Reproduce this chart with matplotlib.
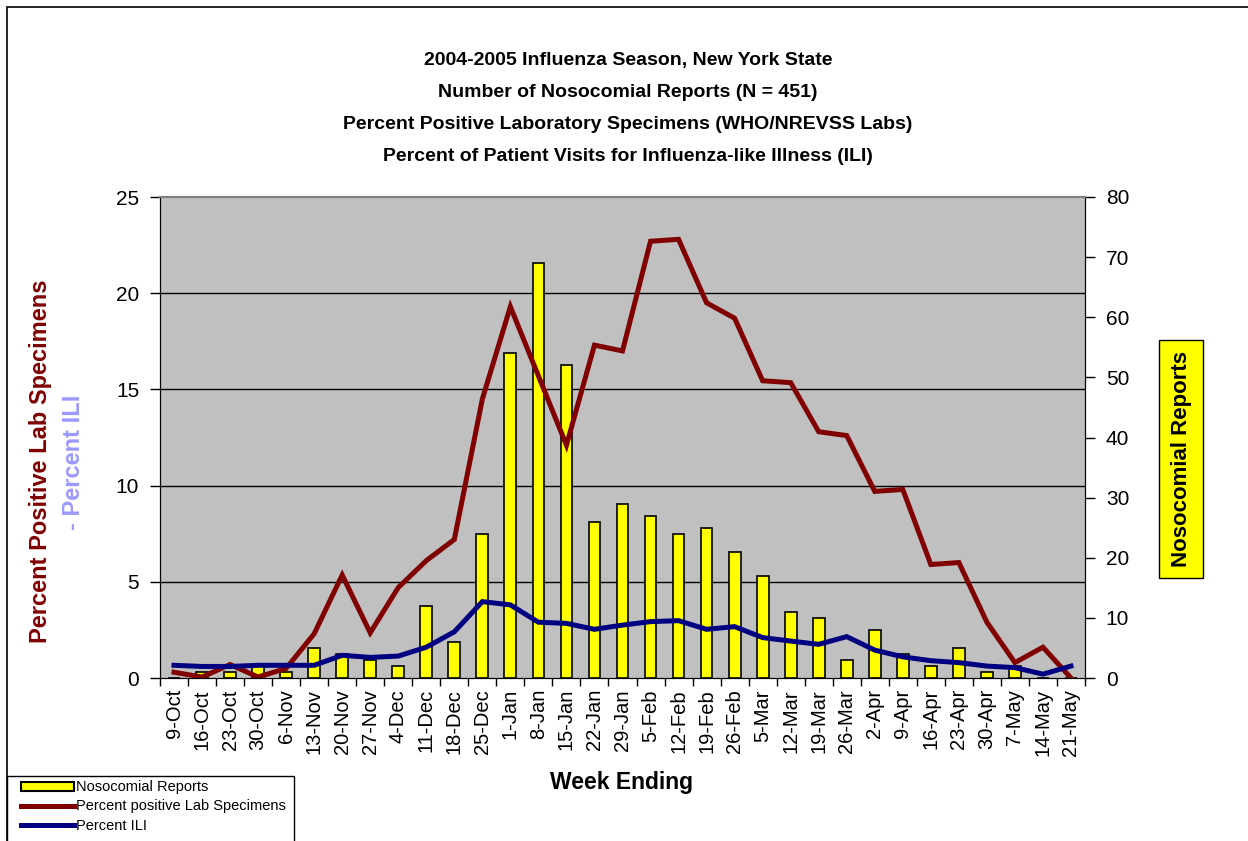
import matplotlib.pyplot as plt
from matplotlib.patches import Rectangle
from matplotlib.lines import Line2D

plt.rcParams['font.family'] = ['Liberation Sans', 'DejaVu Sans']

# --- Data ---
weeks = ['9-Oct', '16-Oct', '23-Oct', '30-Oct', '6-Nov', '13-Nov', '20-Nov', '27-Nov',
         '4-Dec', '11-Dec', '18-Dec', '25-Dec', '1-Jan', '8-Jan', '15-Jan', '22-Jan',
         '29-Jan', '5-Feb', '12-Feb', '19-Feb', '26-Feb', '5-Mar', '12-Mar', '19-Mar',
         '26-Mar', '2-Apr', '9-Apr', '16-Apr', '23-Apr', '30-Apr', '7-May', '14-May', '21-May']
nosocomial = [0, 1, 1, 2, 1, 5, 4, 3, 2, 12, 6, 24, 54, 69, 52, 26,
              29, 27, 24, 25, 21, 17, 11, 10, 3, 8, 4, 2, 5, 1, 2, 0, 0]
pct_positive = [0.3, 0.05, 0.7, 0.05, 0.5, 2.3, 5.35, 2.35, 4.7, 6.1, 7.2, 14.5, 19.3, 15.7,
                12.1, 17.3, 17.0, 22.7, 22.8, 19.5, 18.7, 15.45, 15.35, 12.8, 12.6, 9.7, 9.8,
                5.9, 6.0, 2.9, 0.8, 1.6, 0.0]
pct_ili = [0.66, 0.6, 0.6, 0.66, 0.66, 0.66, 1.18, 1.07, 1.14, 1.6, 2.4, 3.97, 3.8, 2.9,
           2.84, 2.53, 2.75, 2.93, 2.98, 2.53, 2.67, 2.1, 1.92, 1.75, 2.15, 1.45, 1.1,
           0.9, 0.8, 0.62, 0.54, 0.2, 0.62]
left_ticks = [0, 5, 10, 15, 20, 25]
right_ticks = [0, 10, 20, 30, 40, 50, 60, 70, 80]

RED = '#800000'
NAVY = '#000080'
W, H = 1248, 841

fig = plt.figure(figsize=(W / 100, H / 100), dpi=100)
fig.patches.append(Rectangle((7 / W, -0.1), 1.2, 1.1 - 7 / H, transform=fig.transFigure,
                             fill=False, edgecolor='black', lw=1.2))

ax = fig.add_axes([160 / W, 1 - 678 / H, (1085 - 160) / W, (678 - 197) / H])
ax.set_facecolor('#C0C0C0')
ax2 = ax.twinx()

x = list(range(len(weeks)))

# --- Bars (right scale) ---
ax.bar(x, nosocomial, width=0.42, color='#FFFF00', edgecolor='black', linewidth=1.2, zorder=3)
ax.set_ylim(0, 80)
ax.set_yticks(right_ticks)
ax.yaxis.tick_right()
ax.tick_params(axis='y', direction='out', length=7, width=1, pad=8, labelsize=15)

# gridlines from the left scale, behind bars
for g in left_ticks[1:-1]:
    ax.plot([0, 1], [g, g], color='black', lw=1, transform=ax2.get_yaxis_transform(), zorder=1)

# --- Lines (left scale) ---
ax2.plot(x, pct_positive, color=RED, lw=3.6, solid_joinstyle='miter', zorder=4)
ax2.plot(x, pct_ili, color=NAVY, lw=3.6, solid_joinstyle='miter', zorder=5)
ax2.set_ylim(0, 25)
ax2.set_yticks(left_ticks)
ax2.yaxis.tick_left()
ax2.tick_params(axis='y', direction='out', length=7, width=1, pad=8, labelsize=15)

# --- X axis ---
ax.set_xlim(-0.5, len(weeks) - 0.5)
ax.set_xticks(x)
ax.set_xticklabels(weeks, rotation=90, fontsize=14.5)
ax.set_xticks([i - 0.5 for i in range(len(weeks) + 1)], minor=True)
ax.tick_params(axis='x', which='major', length=0, pad=8)
ax.tick_params(axis='x', which='minor', direction='out', length=6, width=1)

for a in (ax, ax2):
    for side in ('left', 'right', 'bottom'):
        a.spines[side].set_color('black')
    a.spines['top'].set_color('#808080')
    a.spines['top'].set_linewidth(1.5)

# --- Text ---
title = ['2004-2005 Influenza Season, New York State',
         'Number of Nosocomial Reports (N = 451)',
         'Percent Positive Laboratory Specimens (WHO/NREVSS Labs)',
         'Percent of Patient Visits for Influenza-like Illness (ILI)']
for i, line in enumerate(title):
    fig.text(628 / W, 1 - (60 + 32.3 * i) / H, line, ha='center', va='center',
             fontsize=14, fontweight='bold')

fig.text(41 / W, 1 - 643 / H, 'Percent Positive Lab Specimens', rotation=90,
         ha='center', va='bottom', fontsize=17, fontweight='bold', color=RED)
fig.text(74 / W, 1 - 462 / H, '- Percent ILI', rotation=90,
         ha='center', va='center', fontsize=17, fontweight='bold', color='#9999FF')
fig.text(1181 / W, 1 - 459 / H, 'Nosocomial Reports', rotation=90,
         ha='center', va='center', fontsize=16, fontweight='bold',
         bbox=dict(boxstyle='square,pad=0.5', facecolor='#FFFF00', edgecolor='black', lw=1))
fig.text(622 / W, 1 - 783 / H, 'Week Ending', ha='center', va='center',
         fontsize=16.5, fontweight='bold')

# --- Legend (frame drawn separately, runs off the bottom edge) ---
fig.patches.append(Rectangle((7 / W, -0.05), (294 - 7) / W, 0.05 + 1 - 776 / H,
                             transform=fig.transFigure, facecolor='white',
                             edgecolor='black', lw=1, zorder=5))
handles = [Rectangle((0, 0), 1, 1, facecolor='#FFFF00', edgecolor='black', lw=1.5),
           Line2D([], [], color=RED, lw=3.6),
           Line2D([], [], color=NAVY, lw=3.6)]
labels = ['Nosocomial Reports', 'Percent positive Lab Specimens', 'Percent ILI']
leg = fig.legend(handles, labels, loc='upper left', bbox_to_anchor=(17 / W, 1 - 776 / H),
                 bbox_transform=fig.transFigure, fontsize=10.5, frameon=False,
                 borderaxespad=0, borderpad=0.3,
                 handlelength=3.6, handleheight=0.6, handletextpad=0.15, labelspacing=0.35)
leg.set_zorder(6)

plt.savefig('out.png', dpi=100)
